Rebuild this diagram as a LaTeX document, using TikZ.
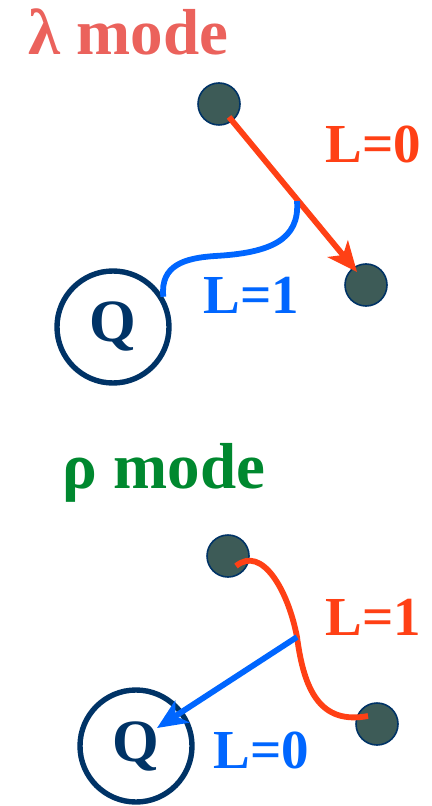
\documentclass[tikz,border=0pt]{standalone}
\usepackage{fontspec}
\setmainfont{Liberation Serif}
\usetikzlibrary{arrows.meta}

\definecolor{titlered}{HTML}{EB625C}
\definecolor{lred}{HTML}{FF4015}
\definecolor{lblue}{HTML}{0066FF}
\definecolor{navy}{HTML}{003366}
\definecolor{ballfill}{HTML}{3D5B57}
\definecolor{modegreen}{HTML}{00882F}

\begin{document}
\begin{tikzpicture}[
  x=0.5pt, y=-0.5pt,
  ball/.style={circle, draw=navy, line width=0.8pt, fill=ballfill, minimum size=21pt, inner sep=0pt},
  quark/.style={circle, draw=navy, line width=2.7pt, minimum size=56pt, inner sep=0pt,
    text=navy, font=\fontsize{30}{30}\selectfont\bfseries},
  lab/.style={anchor=base west, inner sep=0pt, font=\fontsize{27.5}{27.5}\selectfont\bfseries},
  title/.style={anchor=base west, inner sep=0pt, font=\fontsize{32.5}{32.5}\selectfont\bfseries},
  bond/.style={line width=2.9pt},
  tip/.style={-{Stealth[length=15pt, width=13pt, inset=4pt]}}
]
\useasboundingbox (0,0) rectangle (432,806);

% lambda mode
\node[title, text=titlered] (lam) at (28,55) {λ mode};
\node[ball] (b1) at (219,104) {};
\node[ball] (b2) at (366,285) {};
\node[quark] (q1) at (113,327) {Q};
\coordinate (s1) at (229,117);
\coordinate (e1) at (357,272);
\coordinate (m1) at (297,201);
\draw[bond, lred, tip] (s1) -- (e1);
\draw[bond, lblue] (q1.31) .. controls (160,265) and (185,258) .. (215,256)
  .. controls (270,253) and (300,240) .. (m1);
\node[lab, text=lred] (l0) at (325,163) {L=0};
\node[lab, text=lblue] (l1) at (203,314) {L=1};

% rho mode
\node[title, text=modegreen] (rho) at (62,488) {ρ mode};
\node[ball] (b3) at (228,556) {};
\node[ball] (b4) at (377,724) {};
\node[quark] (q2) at (136,746) {Q};
\coordinate (s2) at (236,566);
\coordinate (m2) at (297,637);
\coordinate (e2) at (368,716);
\coordinate (e3) at (157,728);
\draw[bond, lred] (s2) .. controls (262,545) and (288,590) .. (m2)
  .. controls (304,690) and (320,725) .. (e2);
\draw[bond, lblue, tip] (m2) -- (e3);
\node[lab, text=lred] (l2) at (325,635) {L=1};
\node[lab, text=lblue] (l3) at (213,768) {L=0};
\end{tikzpicture}
\end{document}
